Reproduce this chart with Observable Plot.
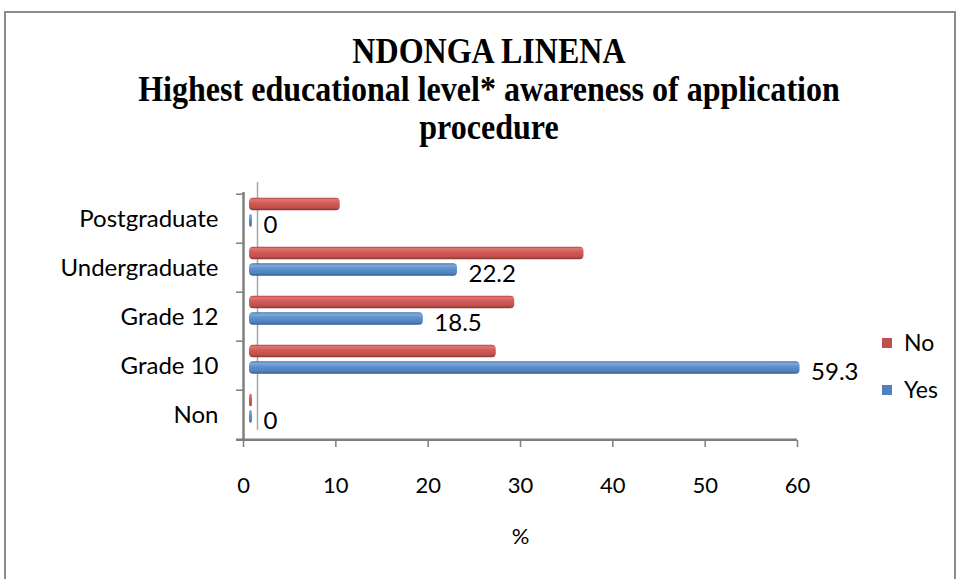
<!DOCTYPE html>
<html>
<head>
<meta charset="utf-8">
<script src="https://cdn.jsdelivr.net/npm/d3@7"></script>
<script src="https://cdn.jsdelivr.net/npm/@observablehq/plot@0.6"></script>
<style>
  body { margin: 0; background: #fff; }
  #wrap { position: relative; width: 959px; height: 579px; overflow: hidden; background: #fff; }
  #frame { position: absolute; left: 4px; top: 11px; width: 952px; height: 600px; border: 2px solid #8c8c8c; box-sizing: border-box; }
  #title { position: absolute; left: 0; top: 32px; width: 978px; text-align: center;
           font-family: "Liberation Serif", serif; font-weight: bold; font-size: 36px; line-height: 38px; color: #000; }
  #title div { transform: scaleX(0.89); white-space: nowrap; }
  #chart { position: absolute; left: 0; top: 0; }
  .leg { position: absolute; left: 882px; font-family: Lato, sans-serif; font-size: 23px; color: #000; }
  .leg span.sw { position: absolute; left: 0; width: 10px; height: 10px; }
  .leg span.lb { position: absolute; left: 22px; top: -10px; line-height: 28px; }
</style>
</head>
<body>
<div id="wrap">
  <div id="frame"></div>
  <div id="chart"></div>
  <div id="title"></div>
  <div id="legend"></div>
</div>
<script>
const titleLines = ["NDONGA LINENA", "Highest educational level* awareness of application", "procedure"];
const categories = ["Postgraduate", "Undergraduate", "Grade 12", "Grade 10", "Non"];
const noValues = [9.5, 35.9, 28.4, 26.4, 0];
const yesValues = [0, 22.2, 18.5, 59.3, 0];
const xTicks = [0, 10, 20, 30, 40, 50, 60];
const seriesNames = ["No", "Yes"];
const seriesColors = ["#c0504d", "#4f81bd"];
const axisLabel = "%";

const data = categories.map((c, i) => ({category: c, no: noValues[i], yes: yesValues[i]}));

const bw = (440 - 192) / categories.length;
const axisColor = "#7f7f7f";

const plot = Plot.plot({
  width: 959,
  height: 579,
  marginLeft: 243,
  marginRight: 162,
  marginTop: 192,
  marginBottom: 139,
  style: {fontFamily: "Lato, sans-serif", fontSize: "22px", color: "#000", background: "transparent", overflow: "visible"},
  x: {domain: [0, 60]},
  y: {domain: categories, padding: 0},
  marks: [
    // back wall (3-D depth)
    Plot.ruleX([0], {dx: 14, dy: -10, stroke: "#a6a6a6", strokeWidth: 1.5}),
    // y axis line
    Plot.ruleX([0], {dx: 0.01, dy: 0.01, stroke: axisColor, strokeWidth: 2.5}),
    // y ticks at band boundaries
    Plot.ruleY(categories, {y: d => d, x1: 0, x2: 0, insetLeft: -7, dy: -bw / 2, stroke: axisColor, strokeWidth: 1.5}),
    // x axis line (bottom edge of last band)
    Plot.ruleY(categories.slice(-1), {y: d => d, dy: bw / 2 + 0.01, dx: 0.01, insetLeft: -7, stroke: axisColor, strokeWidth: 2.5}),
    Plot.axisX({ticks: xTicks, tickSize: 7, tickPadding: 30, fontSize: 22, stroke: axisColor, strokeWidth: 1.5, label: null}),
    Plot.axisY({tickSize: 0, tickPadding: 25, fontSize: 24, letterSpacing: 0.4, label: null}),
    // bars
    Plot.barX(data, {y: "category", x1: 0, x2: "no", fill: "url(#gNo)", insetTop: bw / 2 - 21, insetBottom: bw / 2 + 8, insetRight: -3, dx: 6, rx: 4}),
    Plot.barX(data, {y: "category", x1: 0, x2: "yes", fill: "url(#gYes)", insetTop: bw / 2 - 4.5, insetBottom: bw / 2 - 8.5, insetRight: -3, dx: 6, rx: 4}),
    // value labels for Yes
    Plot.text(data, {y: "category", x: "yes", text: d => String(d.yes), dx: 20, dy: 6, textAnchor: "start", fontSize: 24, fill: "#000"}),
    Plot.text([axisLabel], {frameAnchor: "bottom", dy: 103, fontSize: 22, fill: "#000"})
  ]
});

// gradient definitions for the cylinder look
const ns = "http://www.w3.org/2000/svg";
const defs = document.createElementNS(ns, "defs");
const grads = {
  gNo: [[0, "#b04643"], [0.15, "#e07572"], [0.45, "#d05a57"], [0.8, "#c0504d"], [1, "#86332f"]],
  gYes: [[0, "#4270a8"], [0.15, "#80a9dc"], [0.45, "#5e8fcd"], [0.8, "#4f81bd"], [1, "#345b8b"]]
};
for (const [id, stops] of Object.entries(grads)) {
  const g = document.createElementNS(ns, "linearGradient");
  g.setAttribute("id", id);
  g.setAttribute("x1", "0"); g.setAttribute("y1", "0");
  g.setAttribute("x2", "0"); g.setAttribute("y2", "1");
  for (const [o, c] of stops) {
    const s = document.createElementNS(ns, "stop");
    s.setAttribute("offset", o);
    s.setAttribute("stop-color", c);
    g.appendChild(s);
  }
  defs.appendChild(g);
}
plot.insertBefore(defs, plot.firstChild);
document.getElementById("chart").appendChild(plot);

// title
const t = document.getElementById("title");
for (const line of titleLines) {
  const d = document.createElement("div");
  d.textContent = line;
  t.appendChild(d);
}

// legend
const leg = document.getElementById("legend");
const legY = [338, 385];
seriesNames.forEach((name, i) => {
  const item = document.createElement("div");
  item.className = "leg";
  item.style.top = legY[i] + "px";
  item.innerHTML = `<span class="sw" style="background:${seriesColors[i]}"></span><span class="lb">${name}</span>`;
  leg.appendChild(item);
});
</script>
</body>
</html>
